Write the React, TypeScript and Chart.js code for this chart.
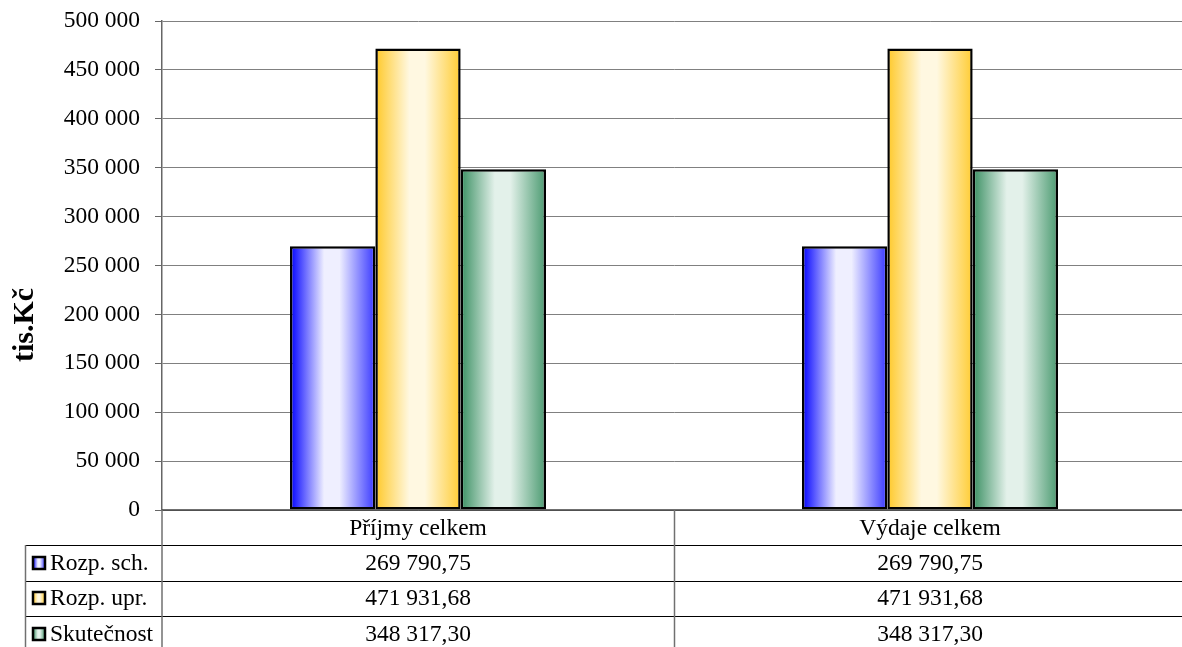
import React, { useEffect, useRef } from 'react';
import { Chart, registerables } from 'chart.js';

Chart.register(...registerables);

const categories = ['Příjmy celkem', 'Výdaje celkem'];
const seriesNames = ['Rozp. sch.', 'Rozp. upr.', 'Skutečnost'];
const rozpSch = [269790.75, 269790.75];
const rozpUpr = [471931.68, 471931.68];
const skutecnost = [348317.3, 348317.3];
const yMin = 0;
const yMax = 500000;
const yStep = 50000;
const yTitle = 'tis.Kč';

const palette = [
  { dark: '#0000ff', light: '#efefff', edge: '#3838ff' },
  { dark: '#ffc929', light: '#fff8e1', edge: '#ffcc33' },
  { dark: '#3a8f62', light: '#e3f1ea', edge: '#4a9a70' },
];

const SERIF = '"Liberation Serif", "Times New Roman", serif';

const fmt = (v: number, dec: number) => {
  const s = v.toFixed(dec);
  const [i, d] = s.split('.');
  const ii = i.replace(/\B(?=(\d{3})+(?!\d))/g, ' ');
  return d ? ii + ',' + d : ii;
};

const makeGradient = (c: CanvasRenderingContext2D, left: number, w: number, p: { dark: string; light: string; edge: string }) => {
  const g = c.createLinearGradient(left, 0, left + w, 0);
  g.addColorStop(0, p.dark);
  g.addColorStop(0.4, p.light);
  g.addColorStop(0.58, p.light);
  g.addColorStop(1, p.edge);
  return g;
};

const CAT_PCT = 0.5;

const barBg = (idx: number) => (ctx: any) => {
  const chart = ctx.chart;
  const p = palette[idx];
  if (!chart.chartArea || ctx.type !== 'data' || ctx.dataIndex === undefined) return p.dark;
  const xs = chart.scales.x;
  const center = xs.getPixelForValue(ctx.dataIndex);
  const cat = xs.width / categories.length;
  const group = cat * CAT_PCT;
  const bw = group / seriesNames.length;
  const left = center - group / 2 + idx * bw;
  return makeGradient(chart.ctx, left, bw, p);
};

const yTitlePlugin = {
  id: 'yTitle',
  afterDraw(chart: any) {
    const { ctx } = chart;
    ctx.save();
    ctx.translate(25, 325);
    ctx.rotate(-Math.PI / 2);
    ctx.font = 'bold 30px ' + SERIF;
    ctx.fillStyle = '#000';
    ctx.textAlign = 'center';
    ctx.textBaseline = 'middle';
    ctx.fillText(yTitle, 0, 0);
    ctx.restore();
  },
};

const tablePlugin = {
  id: 'dataTable',
  afterDraw(chart: any) {
    const { ctx, chartArea: a, scales } = chart;
    const xs = scales.x;
    const top = a.bottom;
    const headerH = 35;
    const rowH = 35.5;
    const legendLeft = 25.5;
    const right = a.right;
    const H = chart.height;
    const line = (x1: number, y1: number, x2: number, y2: number) => {
      ctx.beginPath();
      ctx.moveTo(x1, y1);
      ctx.lineTo(x2, y2);
      ctx.stroke();
    };
    ctx.save();
    ctx.strokeStyle = '#404040';
    ctx.lineWidth = 1.5;
    line(a.left, top, right, top);
    ctx.strokeStyle = '#000';
    ctx.lineWidth = 1.2;
    for (let r = 0; r <= seriesNames.length; r++) {
      const y = Math.round(top + headerH + r * rowH) + 0.5;
      line(legendLeft, y, right, y);
    }
    ctx.strokeStyle = '#707070';
    ctx.lineWidth = 1.5;
    line(legendLeft, top + headerH, legendLeft, H);
    line(a.left, top, a.left, H);
    for (let i = 1; i < categories.length; i++) {
      const bx = Math.round((xs.getPixelForValue(i - 1) + xs.getPixelForValue(i)) / 2) + 0.5;
      line(bx, top, bx, H);
    }
    line(right, top, right, H);

    ctx.fillStyle = '#000';
    ctx.font = '23.5px ' + SERIF;
    ctx.textBaseline = 'middle';
    ctx.textAlign = 'center';
    categories.forEach((c, i) => {
      ctx.fillText(c, xs.getPixelForValue(i), top + headerH / 2 + 1);
    });
    const series = [rozpSch, rozpUpr, skutecnost];
    series.forEach((vals, r) => {
      const cy = top + headerH + r * rowH + rowH / 2 + 1;
      ctx.textAlign = 'center';
      vals.forEach((v, i) => {
        ctx.fillText(fmt(v, 2), xs.getPixelForValue(i), cy);
      });
      const mx = 33, ms = 12;
      const my = Math.round(cy - ms / 2) - 1;
      ctx.fillStyle = makeGradient(ctx, mx, ms, palette[r]);
      ctx.fillRect(mx, my, ms, ms);
      ctx.strokeStyle = '#000';
      ctx.lineWidth = 2.5;
      ctx.strokeRect(mx, my, ms, ms);
      ctx.fillStyle = '#000';
      ctx.textAlign = 'left';
      ctx.fillText(seriesNames[r], 50, cy);
    });
    ctx.restore();
  },
};

export default function App() {
  const ref = useRef<HTMLCanvasElement | null>(null);
  useEffect(() => {
    if (!ref.current) return;
    const seriesData = [rozpSch, rozpUpr, skutecnost];
    const chart = new Chart(ref.current, {
      type: 'bar',
      data: {
        labels: categories,
        datasets: seriesNames.map((name, i) => ({
          label: name,
          data: seriesData[i],
          backgroundColor: barBg(i),
          borderColor: '#000',
          borderWidth: 2.5,
          borderSkipped: false,
          categoryPercentage: CAT_PCT,
          barPercentage: 1,
        })),
      },
      options: {
        animation: false,
        responsive: true,
        maintainAspectRatio: false,
        layout: { padding: { top: 21, right: 0, bottom: 137, left: 0 } },
        plugins: { legend: { display: false }, tooltip: { enabled: false } },
        scales: {
          x: { display: false },
          y: {
            min: yMin,
            max: yMax,
            ticks: {
              stepSize: yStep,
              color: '#000',
              font: { family: SERIF, size: 23.5 },
              padding: 15,
              callback: (v: any) => fmt(Number(v), 0),
            },
            grid: { color: '#808080', lineWidth: 1, tickLength: 7, tickColor: '#666', drawTicks: true },
            border: { color: '#666', width: 1.5 },
            afterFit: (s: any) => {
              s.width = 162;
              s.paddingTop = 0;
              s.paddingBottom = 0;
            },
          },
        },
      },
      plugins: [tablePlugin, yTitlePlugin],
    });
    return () => chart.destroy();
  }, []);
  return (
    <div style={{ position: 'fixed', left: 0, top: 0, width: 1182, height: 647, overflow: 'hidden', background: '#fff' }}>
      <div style={{ position: 'relative', width: 1186, height: 647 }}>
        <canvas ref={ref} />
      </div>
    </div>
  );
}
